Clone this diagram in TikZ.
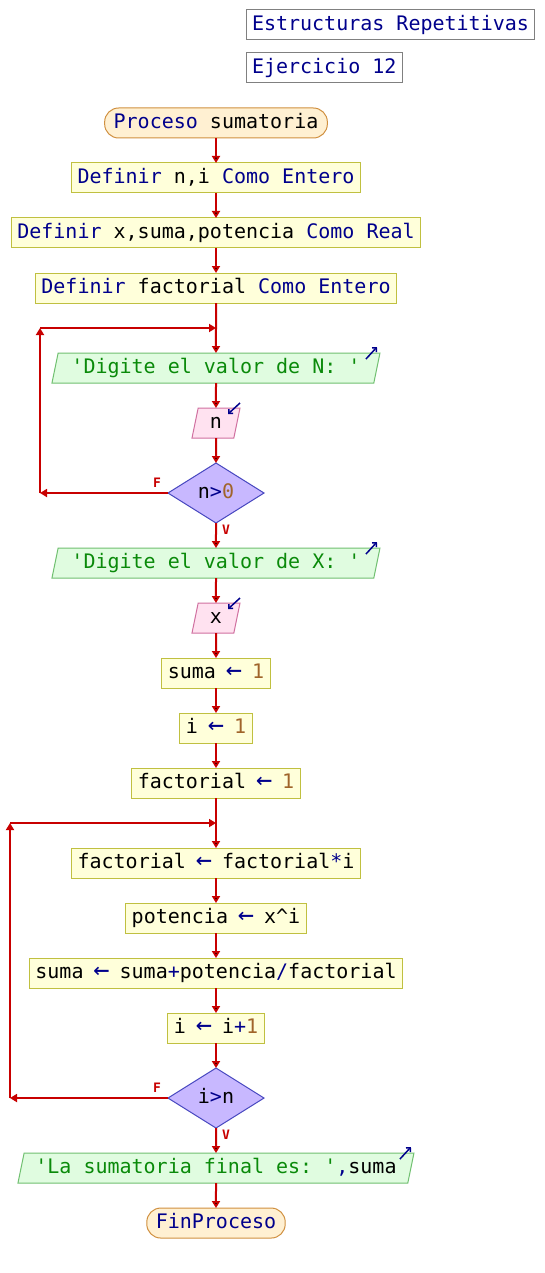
\documentclass[tikz,border=0pt]{standalone}
\usepackage{fontspec}
\setmonofont{DejaVu Sans Mono}
\usetikzlibrary{positioning, shapes.geometric, arrows.meta}

\definecolor{kwblue}{HTML}{00008C}
\definecolor{numbrown}{HTML}{A0642A}
\definecolor{strgreen}{HTML}{0A8A0A}
\definecolor{flowred}{HTML}{C80000}
\definecolor{procfill}{HTML}{FFFFDA}
\definecolor{procdraw}{HTML}{C0C040}
\definecolor{outfill}{HTML}{E0FCE0}
\definecolor{outdraw}{HTML}{70C070}
\definecolor{infill}{HTML}{FFE2F0}
\definecolor{indraw}{HTML}{D070A0}
\definecolor{condfill}{HTML}{C8B8FF}
\definecolor{conddraw}{HTML}{4848C0}
\definecolor{termfill}{HTML}{FFF0D2}
\definecolor{termdraw}{HTML}{D09040}

\newcommand{\kw}[1]{\textcolor{kwblue}{#1}}
\newcommand{\nm}[1]{\textcolor{numbrown}{#1}}
\newcommand{\strg}[1]{\textcolor{strgreen}{#1}}
\newcommand{\asg}{\makebox[12pt][c]{\kw{\scalebox{1.35}[1.3]{←}}}}

\begin{document}
\begin{tikzpicture}[x=1pt,y=-1pt,node distance=25pt,
                font=\ttfamily\fontsize{20pt}{24pt}\selectfont,
                flow/.style={->,>={Triangle[length=7pt,width=8pt]},draw=flowred,line width=2pt},
                io/.style={->,>={Straight Barb[length=3pt,width=6pt]},draw=kwblue,line width=1.5pt},
                txt/.style={text height=15pt,text depth=4pt,outer sep=0pt},
                box/.style={rectangle,txt,inner xsep=6pt,inner ysep=0pt,minimum height=30pt,line width=1pt},
                head/.style={box,draw=gray,fill=white,text=kwblue},
                proc/.style={box,draw=procdraw,fill=procfill},
                term/.style={box,inner xsep=9pt,rounded corners=14pt,draw=termdraw,fill=termfill},
                outp/.style={trapezium,txt,trapezium left angle=72,trapezium right angle=108,
                             trapezium stretches body,inner xsep=4pt,inner ysep=0pt,
                             minimum height=30pt,line width=1pt,draw=outdraw,fill=outfill},
                inp/.style={outp,minimum width=48pt,draw=indraw,fill=infill},
                cond/.style={diamond,txt,aspect=1.6,inner sep=0pt,minimum width=96pt,
                             minimum height=60pt,line width=1pt,draw=conddraw,fill=condfill},
                lbl/.style={text=flowred,font=\ttfamily\bfseries\fontsize{13pt}{15pt}\selectfont}]

  \useasboundingbox[fill=white] (0,0) rectangle (544,1273);

  \node[head,anchor=west] (tit) at (246,25) {Estructuras Repetitivas};
  \node[head,anchor=west] (ej) at (246,68) {Ejercicio 12};

  \node[term] (start) at (216,123) {\kw{Proceso} sumatoria};
  \node[proc] (d1) [below=of start] {\kw{Definir} n,i \kw{Como Entero}};
  \node[proc] (d2) [below=of d1] {\kw{Definir} x,suma,potencia \kw{Como Real}};
  \node[proc] (d3) [below=of d2] {\kw{Definir} factorial \kw{Como Entero}};
  \node[outp,minimum width=328pt] (on) [below=50pt of d3] {\strg{'Digite el valor de N: '}};
  \node[inp] (rn) [below=of on] {n};
  \node[cond] (cn) [below=of rn] {n\kw{>}\nm{0}};
  \node[outp,minimum width=328pt] (ox) [below=of cn] {\strg{'Digite el valor de X: '}};
  \node[inp] (rx) [below=of ox] {x};
  \node[proc] (a1) [below=of rx] {suma \asg{} \nm{1}};
  \node[proc] (a2) [below=of a1] {i \asg{} \nm{1}};
  \node[proc] (a3) [below=of a2] {factorial \asg{} \nm{1}};
  \node[proc] (b1) [below=50pt of a3] {factorial \asg{} factorial\kw{*}i};
  \node[proc] (b2) [below=of b1] {potencia \asg{} x\textasciicircum i};
  \node[proc] (b3) [below=of b2] {suma \asg{} suma\kw{+}potencia\kw{/}factorial};
  \node[proc] (b4) [below=of b3] {i \asg{} i\kw{+}\nm{1}};
  \node[cond] (ci) [below=of b4] {i\kw{>}n};
  \node[outp,minimum width=396pt] (ores) [below=of ci] {\strg{'La sumatoria final es: '}\kw{,}suma};
  \node[term] (fin) [below=of ores] {\kw{FinProceso}};

  \path[flow]
    (start) edge (d1)
    (d1) edge (d2)
    (d2) edge (d3)
    (d3) edge (on)
    (on) edge (rn)
    (rn) edge (cn)
    (cn) edge (ox)
    (ox) edge (rx)
    (rx) edge (a1)
    (a1) edge (a2)
    (a2) edge (a3)
    (a3) edge (b1)
    (b1) edge (b2)
    (b2) edge (b3)
    (b3) edge (b4)
    (b4) edge (ci)
    (ci) edge (ores)
    (ores) edge (fin);

  % first loop
  \coordinate[below=25pt of d3] (j1);
  \draw[flow] (cn.west) -- ++(-128,0) coordinate (l1);
  \draw[flow] (l1) -- (l1 |- j1);
  \draw[flow] (l1 |- j1) -- (j1);
  \node[lbl] (f1) at ([shift={(-11,-10)}]cn.west) {F};
  \node[lbl] (v1) at ([shift={(10,7)}]cn.south) {V};

  % second loop
  \coordinate[below=25pt of a3] (j2);
  \draw[flow] (ci.west) -- ++(-158,0) coordinate (l2);
  \draw[flow] (l2) -- (l2 |- j2);
  \draw[flow] (l2 |- j2) -- (j2);
  \node[lbl] (f2) at ([shift={(-11,-10)}]ci.west) {F};
  \node[lbl] (v2) at ([shift={(10,7)}]ci.south) {V};

  % read / write marks
  \draw[io] ([shift={(-14,6)}]on.top right corner) -- ([shift={(-3,-6)}]on.top right corner);
  \draw[io] ([shift={(-14,6)}]ox.top right corner) -- ([shift={(-3,-6)}]ox.top right corner);
  \draw[io] ([shift={(-14,6)}]ores.top right corner) -- ([shift={(-3,-6)}]ores.top right corner);
  \draw[io] ([shift={(0,-5)}]rn.top right corner) -- ([shift={(-12,6)}]rn.top right corner);
  \draw[io] ([shift={(0,-5)}]rx.top right corner) -- ([shift={(-12,6)}]rx.top right corner);
\end{tikzpicture}
\end{document}
